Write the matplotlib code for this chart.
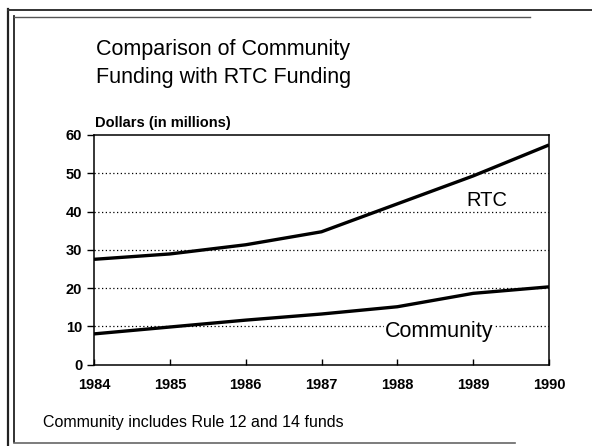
import matplotlib
matplotlib.use("Agg")
import matplotlib.pyplot as plt
from matplotlib.lines import Line2D

years = [1984, 1985, 1986, 1987, 1988, 1989, 1990]
rtc = [27.5, 28.9, 31.3, 34.7, 42.0, 49.3, 57.4]
community = [8.0, 9.8, 11.6, 13.2, 15.1, 18.6, 20.3]
yticks = [0, 10, 20, 30, 40, 50, 60]
title_lines = ["Comparison of Community", "Funding with RTC Funding"]
ylabel_text = "Dollars (in millions)"
footnote = "Community includes Rule 12 and 14 funds"

plt.rcParams['font.family'] = ['Liberation Sans', 'DejaVu Sans']

W, H = 592, 446
fig = plt.figure(figsize=(W / 100, H / 100), dpi=100)
fig.patch.set_facecolor('white')

def fx(x):
    return x / W

def fy(y):
    return 1 - y / H

ax_left, ax_right, ax_top, ax_bottom = 94, 549, 135, 364.5
ax = fig.add_axes([fx(ax_left), fy(ax_bottom), (ax_right - ax_left) / W, (ax_bottom - ax_top) / H])

for yv in yticks[1:-1]:
    ax.axhline(yv, color='black', lw=0.9, linestyle=(0, (1, 2)), zorder=1)

ax.plot(years, rtc, color='black', lw=2.4, solid_capstyle='butt', zorder=3)
ax.plot(years, community, color='black', lw=2.4, solid_capstyle='butt', zorder=3)

ax.set_xlim(years[0], years[-1])
ax.set_ylim(0, 60)
ax.set_xticks(years)
ax.set_xticklabels([str(y) for y in years])
ax.set_yticks(yticks)
for lab in ax.get_xticklabels() + ax.get_yticklabels():
    lab.set_fontweight('bold')
    lab.set_fontsize(10.5)
ax.tick_params(axis='x', direction='in', length=4, width=1, pad=10)
ax.tick_params(axis='y', direction='out', length=5, width=1, pad=3.4)
for s in ax.spines.values():
    s.set_linewidth(1.1)
    s.set_color('black')

# label positions given in pixels, converted to data coordinates
def px_to_data(px, py):
    xd = years[0] + (px - ax_left) / ((ax_right - ax_left) / (years[-1] - years[0]))
    yd = (ax_bottom - py) / ((ax_bottom - ax_top) / 60)
    return xd, yd

rx, ry = px_to_data(487, 206.5)
ax.text(rx, ry, "RTC", fontsize=14.5, ha='center', va='baseline', zorder=4)
cx, cy = px_to_data(439, 337)
ax.text(cx, cy, "Community", fontsize=15.5, ha='center', va='baseline', zorder=4,
        bbox=dict(facecolor='white', edgecolor='none', pad=0.5))

fig.text(fx(96), fy(49), title_lines[0], fontsize=15.5, ha='left', va='center')
fig.text(fx(96), fy(78), title_lines[1], fontsize=15.5, ha='left', va='center')
fig.text(fx(95), fy(127), ylabel_text, fontsize=10.5, fontweight='bold', ha='left', va='baseline')
fig.text(fx(43), fy(423), footnote, fontsize=11.5, ha='left', va='center')

# page frame lines
def fline(x0, y0, x1, y1, lw=1.5, color='#222222'):
    fig.add_artist(Line2D([fx(x0), fx(x1)], [fy(y0), fy(y1)], lw=lw, color=color,
                          transform=fig.transFigure))

fline(8, 9, 8, 446, lw=1.6)
fline(14, 16, 14, 442, lw=1.3)
fline(8, 10, 592, 10, lw=1.4, color='#333333')
fline(14, 17, 530, 17, lw=1.0, color='#555555')
fline(14, 443, 515, 443, lw=1.2, color='#666666')

fig.savefig('out.png', dpi=100, facecolor='white')
